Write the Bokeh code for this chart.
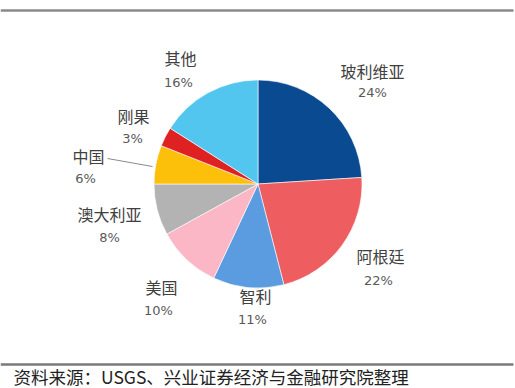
import math
from bokeh.plotting import figure
from bokeh.models import Range1d, ColumnDataSource
from bokeh.core.properties import value
from bokeh.embed import file_html
from bokeh.resources import INLINE

# ---- data ----
countries = ["玻利维亚", "阿根廷", "智利", "美国", "澳大利亚", "中国", "刚果", "其他"]
shares = [24, 22, 11, 10, 8, 6, 3, 16]
colors = ["#0A4A90", "#EE5D60", "#5B9BDF", "#FBB7C5", "#B3B3B3", "#FCBF0A", "#DF2121", "#53C6F0"]
pct_labels = [f"{v}%" for v in shares]
source_note = "资料来源：USGS、兴业证券经济与金融研究院整理"

# ---- layout (pixel positions of label centres) ----
name_pos = [(372, 70), (380, 255), (255, 295), (161, 286), (109, 213), (88, 155), (133, 115), (180, 57)]
pct_pos = [(372, 92), (378, 280), (252, 319), (158, 310), (109, 237), (85, 178), (132, 138), (178, 82)]
cx_page, cy_page, radius = 257.5, 183.5, 104

W, H = 515, 388
def Y(py):
    return H - py

p = figure(width=W, height=H, output_backend="svg", toolbar_location=None,
           x_range=Range1d(0, W), y_range=Range1d(0, H),
           min_border=0, outline_line_color=None)
p.axis.visible = False
p.grid.visible = False
p.background_fill_color = "white"

total = sum(shares)
starts, ends = [], []
cum = 0
for v in shares:
    starts.append(math.pi / 2 - 2 * math.pi * cum / total)
    cum += v
    ends.append(math.pi / 2 - 2 * math.pi * cum / total)

src = ColumnDataSource(dict(start=starts, end=ends, color=colors,
                            x=[cx_page] * len(shares), y=[Y(cy_page)] * len(shares)))
p.wedge(x="x", y="y", radius=radius, start_angle="start", end_angle="end",
        direction="clock", fill_color="color", line_color="white", line_width=0.6, source=src)

# leader line for 中国
p.line(x=[107, 152], y=[Y(158), Y(166)], line_color="#8c8c8c", line_width=1)

lab = ColumnDataSource(dict(x=[q[0] for q in name_pos], y=[Y(q[1]) for q in name_pos], t=countries))
p.text(x="x", y="y", text="t", source=lab, text_align="center", text_baseline="middle",
       text_font=value("Noto Sans CJK SC"), text_font_size="16px", text_color="#404040")
pl = ColumnDataSource(dict(x=[q[0] for q in pct_pos], y=[Y(q[1]) for q in pct_pos], t=pct_labels))
p.text(x="x", y="y", text="t", source=pl, text_align="center", text_baseline="middle",
       text_font=value("DejaVu Sans"), text_font_size="13px", text_color="#595959")

# horizontal rules
p.line(x=[0, 513], y=[Y(10), Y(10)], line_color="#8a8a8a", line_width=2.5)
p.line(x=[0, 513], y=[Y(364), Y(364)], line_color="#7a7a7a", line_width=2.5)

p.text(x=[13], y=[Y(376)], text=[source_note], text_align="left", text_baseline="middle",
       text_font=value("Noto Sans CJK SC"), text_font_size="17.5px", text_color="#222222")

open("out.html", "w").write(file_html(p, INLINE))
